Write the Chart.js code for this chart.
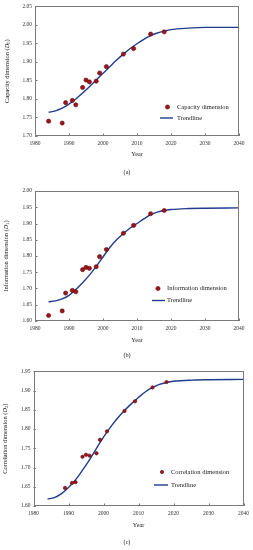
<!DOCTYPE html>
<html>
<head>
<meta charset="utf-8">
<script src="https://cdn.jsdelivr.net/npm/chart.js@4/dist/chart.umd.min.js"></script>
<style>
  body { margin: 0; background: #fff; }
  .box { position: absolute; left: 0; width: 253px; }
</style>
</head>
<body>
<div class="box" style="top:0;height:180px"><canvas id="chartA" width="253" height="180"></canvas></div>
<div class="box" style="top:180px;height:185px"><canvas id="chartB" width="253" height="185"></canvas></div>
<div class="box" style="top:365px;height:185px"><canvas id="chartC" width="253" height="185"></canvas></div>
<script>
// observed years
var yearsA = [1984, 1988, 1989, 1991, 1992, 1994, 1995, 1996, 1998, 1999, 2001, 2006, 2009, 2014, 2018];
var yearsC = [1989, 1991, 1992, 1994, 1995, 1996, 1998, 1999, 2001, 2006, 2009, 2014, 2018];

// dimension values
var capacity    = [1.740, 1.735, 1.790, 1.796, 1.784, 1.831, 1.851, 1.846, 1.848, 1.870, 1.887, 1.921, 1.936, 1.975, 1.981];
var information = [1.617, 1.631, 1.686, 1.694, 1.690, 1.758, 1.765, 1.762, 1.767, 1.798, 1.820, 1.870, 1.894, 1.930, 1.940];
var correlation = [1.647, 1.660, 1.662, 1.728, 1.733, 1.731, 1.737, 1.772, 1.794, 1.847, 1.872, 1.908, 1.922];

// trendline
var trendYears = [1984, 1986, 1988, 1990, 1992, 1994, 1996, 1998, 2000, 2002, 2004, 2006, 2008, 2010, 2012, 2014, 2016, 2018, 2020, 2025, 2030, 2040];
var trendA = [1.764, 1.768, 1.775, 1.786, 1.800, 1.816, 1.833, 1.851, 1.869, 1.887, 1.905, 1.921, 1.936, 1.949, 1.961, 1.971, 1.978, 1.983, 1.987, 1.991, 1.993, 1.993];
var trendB = [1.659, 1.662, 1.668, 1.679, 1.697, 1.718, 1.741, 1.768, 1.797, 1.826, 1.850, 1.869, 1.886, 1.900, 1.914, 1.927, 1.935, 1.940, 1.943, 1.946, 1.947, 1.948];
var trendC = [1.618, 1.622, 1.632, 1.648, 1.668, 1.693, 1.720, 1.750, 1.779, 1.805, 1.828, 1.848, 1.866, 1.882, 1.897, 1.908, 1.916, 1.921, 1.924, 1.927, 1.928, 1.929];

var FONT = "'Liberation Serif', 'Times New Roman', serif";
var DOT = "#a3121b";
var DOT_EDGE = "#5c0a0a";
var LINE = "#1f3c8f";

function pairs(xs, ys) {
	return xs.map(function(x, i) { return { x: x, y: ys[i] }; });
}

// frame, inward ticks, axis titles, legend and caption
var decorPlugin = {
	id: "decor",
	afterDraw: function(chart) {
		var o = chart.options.plugins.decor;
		var ctx = chart.ctx;
		var a = chart.chartArea;
		ctx.save();
		ctx.strokeStyle = "#7a7a7a";
		ctx.lineWidth = 1;
		ctx.strokeRect(Math.round(a.left) + 0.5, Math.round(a.top) + 0.5,
			Math.round(a.right - a.left) - 1, Math.round(a.bottom - a.top) - 1);

		var xs = chart.scales.x, ys = chart.scales.y;
		ctx.beginPath();
		xs.ticks.forEach(function(t) {
			var px = Math.round(xs.getPixelForValue(t.value)) + 0.5;
			ctx.moveTo(px, a.bottom);
			ctx.lineTo(px, a.bottom - 2.5);
		});
		ys.ticks.forEach(function(t) {
			var py = Math.round(ys.getPixelForValue(t.value)) + 0.5;
			ctx.moveTo(a.left, py);
			ctx.lineTo(a.left + 2.5, py);
		});
		ctx.stroke();

		ctx.fillStyle = "#222";
		ctx.textBaseline = "middle";
		ctx.textAlign = "center";
		ctx.font = "6.2px " + FONT;
		ctx.fillText("Year", (a.left + a.right) / 2, o.yearY);
		ctx.font = "6.2px " + FONT;
		ctx.fillText(o.caption, o.captionX, o.captionY);

		// rotated y title with italic D and subscript
		ctx.save();
		ctx.translate(o.titleX, (a.top + a.bottom) / 2);
		ctx.rotate(-Math.PI / 2);
		var size = 6.4;
		var parts = [
			{ t: o.yName + " (", f: size + "px " + FONT, dy: 0 },
			{ t: "D", f: "italic " + size + "px " + FONT, dy: 0 },
			{ t: o.sub, f: (size * 0.7) + "px " + FONT, dy: 1.5 },
			{ t: ")", f: size + "px " + FONT, dy: 0 }
		];
		var total = 0;
		parts.forEach(function(p) { ctx.font = p.f; p.w = ctx.measureText(p.t).width; total += p.w; });
		var cx = -total / 2;
		ctx.textAlign = "left";
		parts.forEach(function(p) {
			ctx.font = p.f;
			ctx.fillText(p.t, cx, p.dy);
			cx += p.w;
		});
		ctx.restore();

		// legend
		var L = o.legend;
		ctx.font = "6.5px " + FONT;
		ctx.textAlign = "left";
		ctx.beginPath();
		ctx.arc(L.dotX, L.dotY, o.dotR, 0, Math.PI * 2);
		ctx.fillStyle = DOT;
		ctx.fill();
		ctx.strokeStyle = DOT_EDGE;
		ctx.lineWidth = 0.6;
		ctx.stroke();
		ctx.fillStyle = "#222";
		ctx.fillText(o.label, L.textX, L.dotY);
		ctx.beginPath();
		ctx.strokeStyle = LINE;
		ctx.lineWidth = 1.4;
		ctx.moveTo(L.lineX1, L.lineY);
		ctx.lineTo(L.lineX2, L.lineY);
		ctx.stroke();
		ctx.fillText("Trendline", L.textX, L.lineY);
		ctx.restore();
	}
};

function makeChart(id, cfg) {
	var ctx = document.getElementById(id).getContext("2d");
	return new Chart(ctx, {
		type: "scatter",
		data: {
			datasets: [{
				label: cfg.label,
				data: pairs(cfg.years, cfg.values),
				backgroundColor: DOT,
				borderColor: DOT_EDGE,
				borderWidth: 0.6,
				pointRadius: cfg.dotR,
				order: 1
			}, {
				label: "Trendline",
				type: "line",
				data: pairs(trendYears, cfg.trend),
				borderColor: LINE,
				borderWidth: 1.4,
				pointRadius: 0,
				fill: false,
				cubicInterpolationMode: "monotone",
				order: 2
			}]
		},
		options: {
			responsive: false,
			animation: false,
			events: [],
			layout: { padding: { left: 0, right: cfg.padRight, top: cfg.padTop, bottom: 0 } },
			plugins: {
				legend: { display: false },
				tooltip: { enabled: false },
				decor: {
					caption: cfg.caption, captionX: 127, captionY: cfg.captionY,
					yearY: cfg.yearY, titleX: cfg.titleX, yName: cfg.yName, sub: cfg.sub,
					label: cfg.label, legend: cfg.legend, dotR: cfg.dotR
				}
			},
			scales: {
				x: {
					type: "linear",
					min: 1980, max: 2040,
					afterFit: function(s) { s.height = cfg.xHeight; },
					grid: { display: false, drawTicks: false },
					border: { display: false },
					ticks: { stepSize: 10, padding: cfg.xPad, color: "#333", font: { family: FONT, size: 5.5 },
						maxRotation: 0, callback: function(v) { return String(v); } }
				},
				y: {
					type: "linear",
					min: cfg.yMin, max: cfg.yMax,
					afterFit: function(s) { s.width = cfg.yWidth; },
					grid: { display: false, drawTicks: false },
					border: { display: false },
					ticks: { stepSize: 0.05, padding: 3, color: "#333", font: { family: FONT, size: 5.5 },
						callback: function(v) { return v.toFixed(2); } }
				}
			}
		},
		plugins: [decorPlugin]
	});
}

makeChart("chartA", {
	label: "Capacity dimension", yName: "Capacity dimension", sub: "0", caption: "(a)",
	years: yearsA, values: capacity, trend: trendA,
	yMin: 1.70, yMax: 2.05, dotR: 2.1,
	padTop: 4, padRight: 14, yWidth: 35, xHeight: 44, xPad: 4,
	yearY: 154, captionY: 172, titleX: 7.5,
	legend: { dotX: 167.5, dotY: 107, textX: 177, lineX1: 160, lineX2: 173, lineY: 118 }
});

makeChart("chartB", {
	label: "Information dimension", yName: "Information dimension", sub: "1", caption: "(b)",
	years: yearsA, values: information, trend: trendB,
	yMin: 1.60, yMax: 2.00, dotR: 2.1,
	padTop: 11, padRight: 14, yWidth: 35, xHeight: 44, xPad: 4,
	yearY: 160, captionY: 175.5, titleX: 6.7,
	legend: { dotX: 158, dotY: 108.5, textX: 167, lineX1: 152, lineX2: 165, lineY: 120.5 }
});

makeChart("chartC", {
	label: "Correlation dimension", yName: "Correlation dimension", sub: "2", caption: "(c)",
	years: yearsC, values: correlation, trend: trendC,
	yMin: 1.60, yMax: 1.95, dotR: 1.7,
	padTop: 4, padRight: 9, yWidth: 33.5, xHeight: 44, xPad: 4,
	yearY: 160, captionY: 177.5, titleX: 5.5,
	legend: { dotX: 162, dotY: 107, textX: 171, lineX1: 154, lineX2: 168, lineY: 120 }
});
</script>
</body>
</html>
